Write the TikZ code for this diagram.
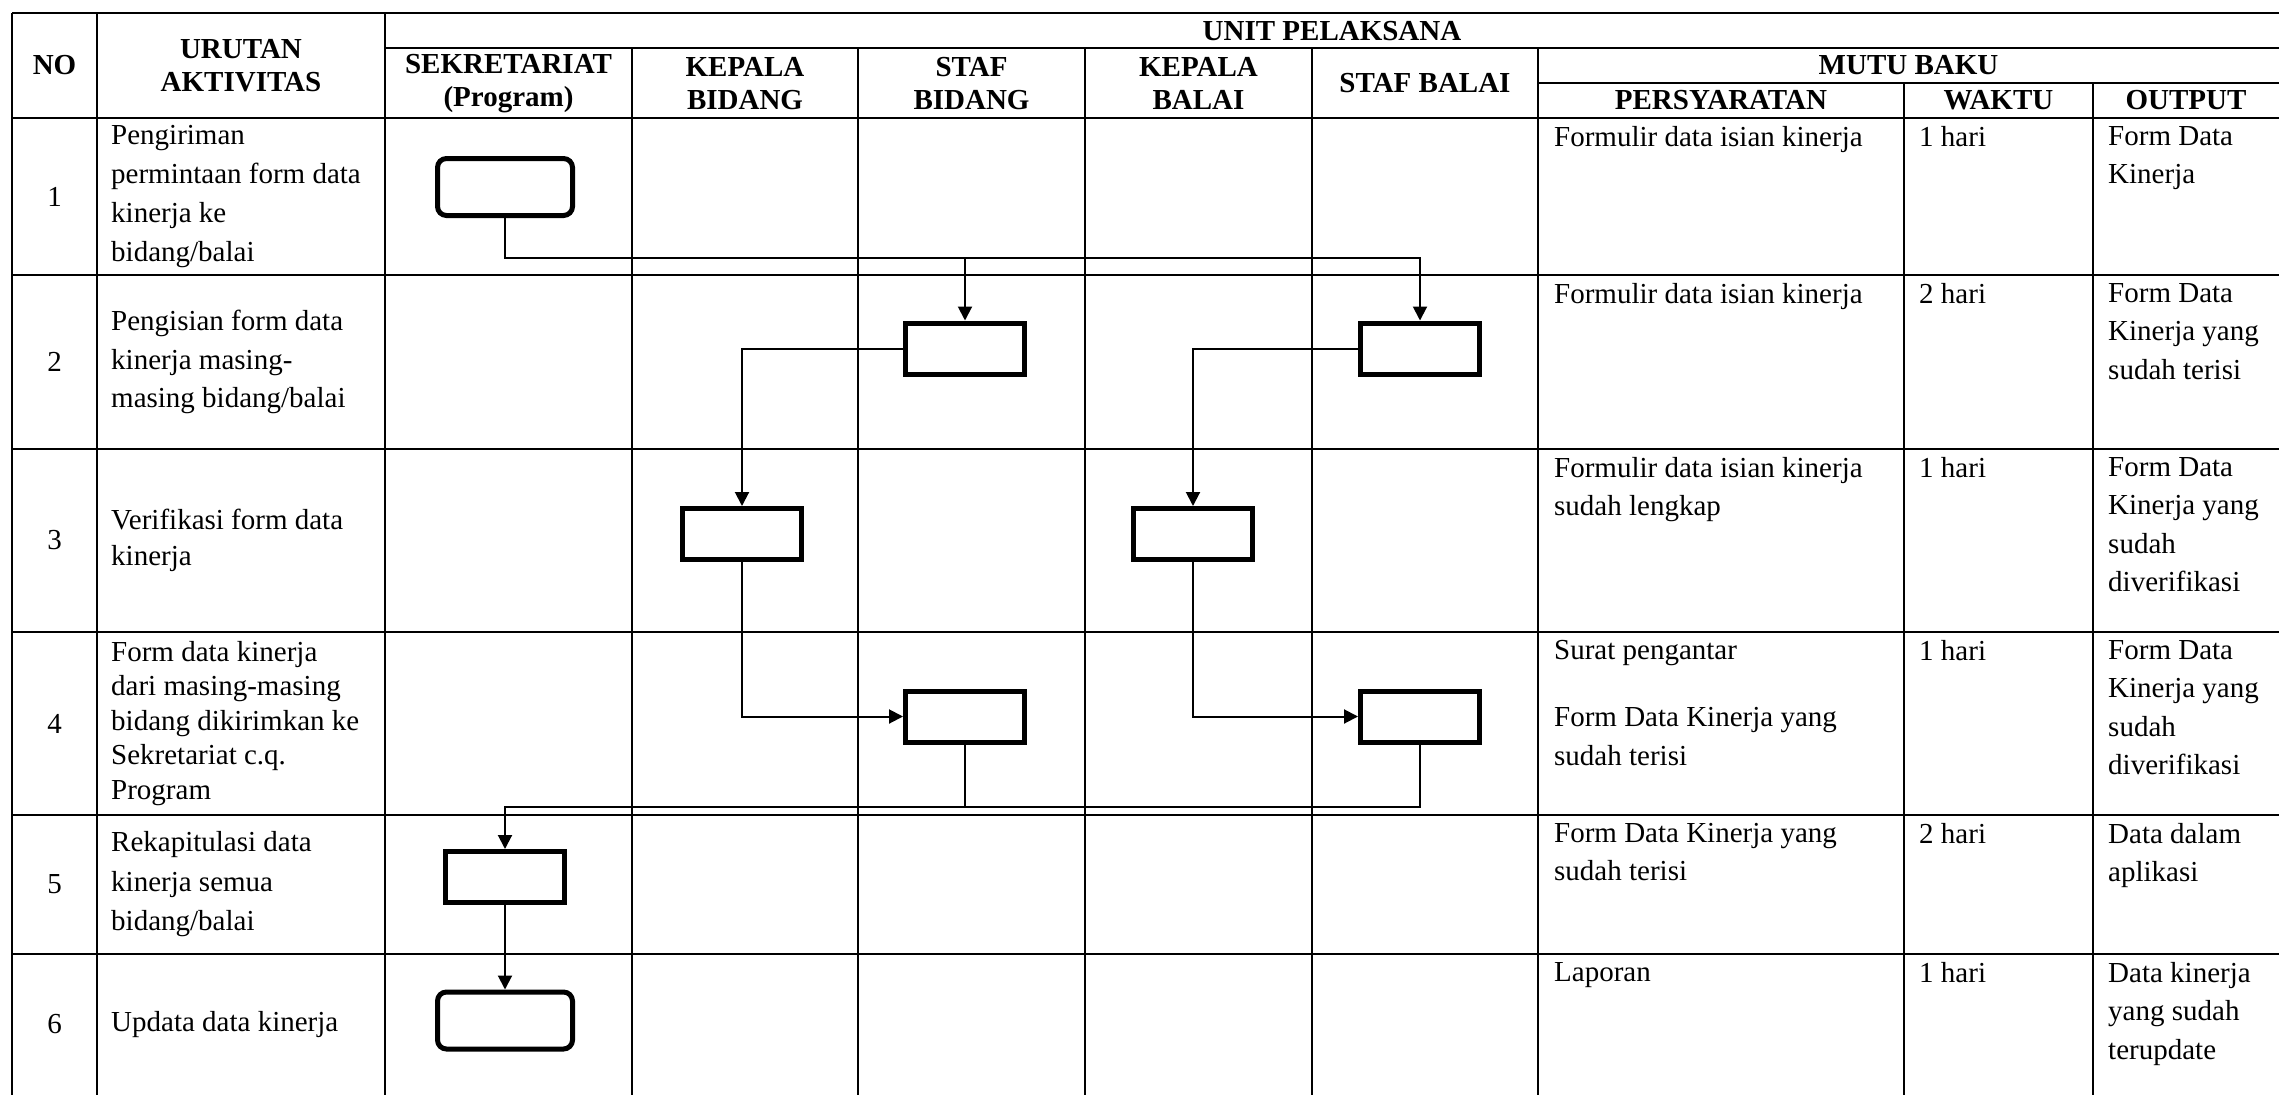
\documentclass[tikz,border=0pt]{standalone}
\usepackage{fontspec}
\setmainfont{Liberation Serif}
\usetikzlibrary{arrows.meta}
\begin{document}
\begin{tikzpicture}[x=1pt,y=-1pt,
  tline/.style={line width=2.5pt},
  vline/.style={line width=2.2pt},
  actbox/.style={draw, line width=5pt, minimum width=119pt, minimum height=51pt, inner sep=0pt, fill=white},
  termbox/.style={actbox, rounded corners=9pt, minimum width=135pt, minimum height=57pt},
  conn/.style={line width=2pt},
  arr/.style={conn, -{Triangle[length=14pt,width=14pt]}},
  hdr/.style={font=\bfseries\fontsize{29}{33}\selectfont, align=center, inner sep=0pt},
  num/.style={font=\fontsize{29}{33}\selectfont, inner sep=0pt},
  lefttxt/.style={font=\fontsize{29}{38}\selectfont, align=left, inner sep=0pt, anchor=west},
  righttxt/.style={font=\fontsize{29}{38.5}\selectfont, align=left, inner sep=0pt, anchor=north west},
]
\useasboundingbox (0,0) rectangle (2279,1095);

% ---- table grid ----
\draw[tline] (12,13) -- (2279,13);
\draw[tline] (385,48) -- (2279,48);
\draw[tline] (1538,83) -- (2279,83);
\foreach \yy in {118,275,449,632,815,954}{
  \draw[tline] (12,\yy) -- (2279,\yy);
}
\foreach \xx in {12,97,385}{
  \draw[vline] (\xx,13) -- (\xx,1095);
}
\foreach \xx in {632,858,1085,1312,1538}{
  \draw[vline] (\xx,48) -- (\xx,1095);
}
\foreach \xx in {1904,2093}{
  \draw[vline] (\xx,83) -- (\xx,1095);
}

% ---- headers ----
\node[hdr] (hno) at (54.5,65.5) {NO};
\node[hdr] (hurut) at (241,65.5) {URUTAN\\AKTIVITAS};
\node[hdr] (hunit) at (1332,31) {UNIT PELAKSANA};
\node[hdr] (hsek) at (508.5,83.5) {SEKRETARIAT\\(Program)};
\node[hdr] (hkb) at (745,83.5) {KEPALA\\BIDANG};
\node[hdr] (hsb) at (971.5,83.5) {STAF\\BIDANG};
\node[hdr] (hkbal) at (1198.5,83.5) {KEPALA\\BALAI};
\node[hdr] (hstb) at (1425,83) {STAF BALAI};
\node[hdr] (hmutu) at (1908.5,65.5) {MUTU BAKU};
\node[hdr] (hpers) at (1721,100.5) {PERSYARATAN};
\node[hdr] (hwaktu) at (1998.5,100.5) {WAKTU};
\node[hdr] (houtput) at (2186,100.5) {OUTPUT};

% ---- numbers ----
\node[num] (n1) at (54.5,196.5) {1};
\node[num] (n2) at (54.5,362) {2};
\node[num] (n3) at (54.5,540.5) {3};
\node[num] (n4) at (54.5,723.5) {4};
\node[num] (n5) at (54.5,884.5) {5};
\node[num] (n6) at (54.5,1024.5) {6};

% ---- activities ----
\node[lefttxt, font=\fontsize{29}{38.7}\selectfont] (a1) at (111,196.5) {Pengiriman\\permintaan form data\\kinerja ke\\bidang/balai};
\node[lefttxt, font=\fontsize{29}{38.3}\selectfont] (a2) at (111,362) {Pengisian form data\\kinerja masing-\\masing bidang/balai};
\node[lefttxt, font=\fontsize{29}{36}\selectfont] (a3) at (111,540.5) {Verifikasi form data\\kinerja};
\node[lefttxt, font=\fontsize{29}{34.5}\selectfont] (a4) at (111,723.5) {Form data kinerja\\dari masing-masing\\bidang dikirimkan ke\\Sekretariat c.q.\\Program};
\node[lefttxt, font=\fontsize{29}{39.5}\selectfont] (a5) at (111,884.5) {Rekapitulasi data\\kinerja semua\\bidang/balai};
\node[lefttxt] (a6) at (111,1024.5) {Updata data kinerja};

% ---- persyaratan ----
\node[righttxt] (p1) at (1554,126) {Formulir data isian kinerja};
\node[righttxt] (p2) at (1554,283) {Formulir data isian kinerja};
\node[righttxt] (p3) at (1554,457) {Formulir data isian kinerja\\sudah lengkap};
\node[righttxt] (p4) at (1554,640) {Surat pengantar\\[29pt]Form Data Kinerja yang\\sudah terisi};
\node[righttxt] (p5) at (1554,823) {Form Data Kinerja yang\\sudah terisi};
\node[righttxt] (p6) at (1554,962) {Laporan};

% ---- waktu ----
\node[righttxt] (w1) at (1919,126) {1 hari};
\node[righttxt] (w2) at (1919,283) {2 hari};
\node[righttxt] (w3) at (1919,457) {1 hari};
\node[righttxt] (w4) at (1919,640) {1 hari};
\node[righttxt] (w5) at (1919,823) {2 hari};
\node[righttxt] (w6) at (1919,962) {1 hari};

% ---- output ----
\node[righttxt] (o1) at (2108,126) {Form Data\\Kinerja};
\node[righttxt] (o2) at (2108,283) {Form Data\\Kinerja yang\\sudah terisi};
\node[righttxt] (o3) at (2108,457) {Form Data\\Kinerja yang\\sudah\\diverifikasi};
\node[righttxt] (o4) at (2108,640) {Form Data\\Kinerja yang\\sudah\\diverifikasi};
\node[righttxt] (o5) at (2108,823) {Data dalam\\aplikasi};
\node[righttxt] (o6) at (2108,962) {Data kinerja\\yang sudah\\terupdate};

% ---- flow boxes ----
\node[termbox] (b1) at (505,187) {};
\node[actbox] (b2) at (965,348.5) {};
\node[actbox] (b2b) at (1420,348.5) {};
\node[actbox] (b3) at (742,534) {};
\node[actbox] (b3b) at (1193,534) {};
\node[actbox] (b4) at (965,716.5) {};
\node[actbox] (b4b) at (1420,716.5) {};
\node[actbox] (b5) at (505,877) {};
\node[termbox] (b6) at (505,1020.5) {};

% ---- connectors ----
\coordinate (h1) at (0,258);
\coordinate (h2) at (0,807);
\draw[arr] (b1.south) |- (b2b.north |- h1) -- (b2b.north);
\draw[arr] (b2.north |- h1) -- (b2.north);
\draw[arr] (b2.west) -| (b3.north);
\draw[arr] (b2b.west) -| (b3b.north);
\draw[arr] (b3.south) |- (b4.west);
\draw[arr] (b3b.south) |- (b4b.west);
\draw[arr] (b4.south) |- (b5.north |- h2) -- (b5.north);
\draw[conn] (b4b.south) |- (b4.south |- h2);
\draw[arr] (b5.south) -- (b6.north);
\end{tikzpicture}
\end{document}
